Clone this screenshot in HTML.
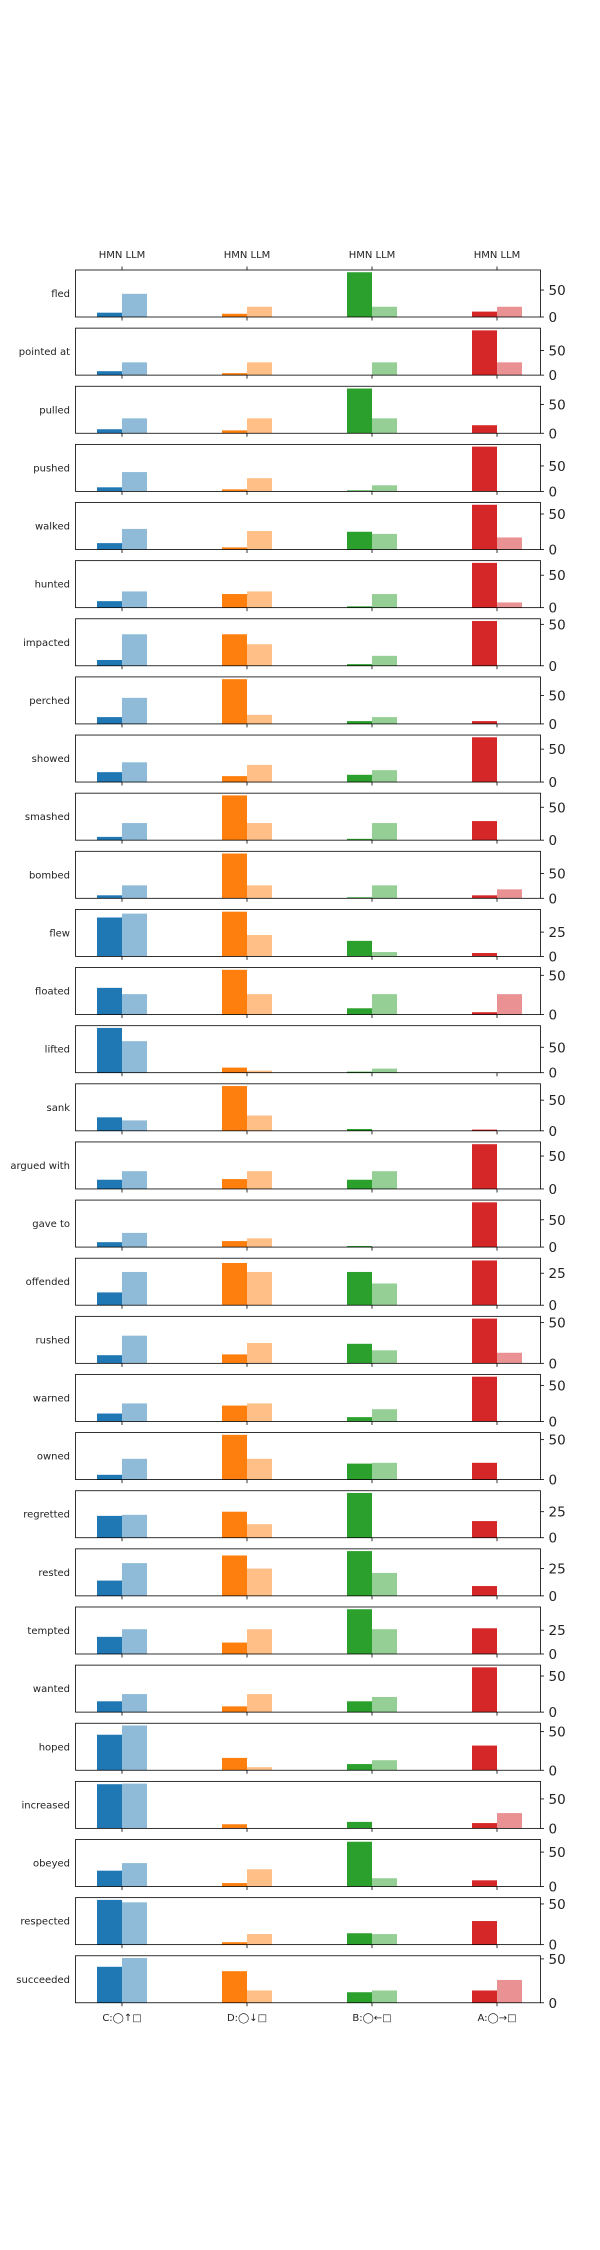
<!DOCTYPE html>
<html><head><meta charset="utf-8">
<style>
html,body{margin:0;padding:0;background:#fff;}
svg{display:block;}
text{font-family:"DejaVu Sans","Liberation Sans",sans-serif;fill:#222;}
</style></head>
<body>
<svg id="chart" width="600" height="2250" viewBox="0 0 600 2250" xmlns="http://www.w3.org/2000/svg"></svg>
<script>
const verbs = ["fled","pointed at","pulled","pushed","walked","hunted","impacted","perched","showed","smashed","bombed","flew","floated","lifted","sank","argued with","gave to","offended","rushed","warned","owned","regretted","rested","tempted","wanted","hoped","increased","obeyed","respected","succeeded"];
const groups = ["C:◯↑□","D:◯↓□","B:◯←□","A:◯→□"];
const hmnC = [8,8,7,8,9,10,7,12,15,5,6,40,34,88,22,14,9,10,10,11,6,21,14,18,15,46,75,23,55,41];
const llmC = [43,26,26,38,29,25,38,46,30,26,26,44,26,62,17,27,26,26,34,25,26,22,30,26,25,58,76,34,52,51];
const hmnD = [6,4,5,4,3,21,38,79,9,68,90,46,57,10,73,15,11,33,11,22,56,25,37,12,8,16,7,5,3,36];
const llmD = [19,26,26,26,26,25,26,16,26,26,26,22,26,4,25,27,16,26,25,25,26,13,25,26,25,4,0,25,13,14];
const hmnB = [83,0,78,2,25,2,2,5,11,2,2,16,8,2,3,14,2,26,24,6,20,43,41,47,15,8,11,65,14,12];
const llmB = [19,26,26,12,22,21,12,12,18,26,26,4.5,26,8,0,27,0,17,16,17,21,0,21,26,21,13,0,12,13,14];
const hmnA = [10,91,14,88,63,69,54,5,68,29,6,3.5,3,0,2,68,82,35,55,62,21,16,9,27,62,32,9,9,29,14];
const llmA = [19,26,0,0,17,8,0,0,0,0,18,0,26,0,0,0,0,0,13,0,0,0,0,0,0,0,26,0,0,26];

const svg = document.getElementById('chart');
const NS = 'http://www.w3.org/2000/svg';
const AX_L = 75.5, AX_R = 540.5, TOP0 = 270, PITCH = 58.13, AX_H = 47;
function xPos(g){ return 122 + 125*g; }
const BW = 25;
const darks = ['#1f77b4','#ff7f0e','#2ca02c','#d62728'];
const lights = ['#8fbbd9','#ffbf86','#95cf95','#ea9293'];
const hmnAll = [hmnC,hmnD,hmnB,hmnA];
const llmAll = [llmC,llmD,llmB,llmA];

function mk(tag, attrs, parent){
  const e = document.createElementNS(NS, tag);
  for (const k in attrs) e.setAttribute(k, attrs[k]);
  (parent||svg).appendChild(e);
  return e;
}

// top labels
groups.forEach((g,gi)=>{
  const t = mk('text',{x:xPos(gi),y:258,'font-size':'10','text-anchor':'middle'});
  
  
  t.textContent = 'HMN LLM';
  const tk = mk('line',{x1:xPos(gi),x2:xPos(gi),y1:TOP0-3.5,y2:TOP0,stroke:'#000','stroke-width':0.8});
  
  
});

verbs.forEach((v,i)=>{
  const top = TOP0 + i*PITCH, bot = top + AX_H;
  const g = mk('g',{});
  
  
  let mx = 0;
  for (let k=0;k<4;k++){ mx = Math.max(mx, hmnAll[k][i], llmAll[k][i]); }
  const ymax = mx*1.05;
  const y = val => bot - val/ymax*AX_H;
  for (let k=0;k<4;k++){
    const h = hmnAll[k][i], l = llmAll[k][i];
    const r1 = mk('rect',{x:xPos(k)-BW,y:y(h),width:BW,height:bot-y(h),fill:darks[k]},g);
    
    
    const r2 = mk('rect',{x:xPos(k),y:y(l),width:BW,height:bot-y(l),fill:lights[k]},g);
    
    
    const tk = mk('line',{x1:xPos(k),x2:xPos(k),y1:bot,y2:bot+3.5,stroke:'#000','stroke-width':0.8},g);
    
    
  }
  const frame = mk('rect',{x:AX_L,y:top,width:AX_R-AX_L,height:AX_H,fill:'none',stroke:'#000','stroke-width':0.8},g);
  
  
  const lab = mk('text',{x:70,y:top+AX_H/2+3.5,'font-size':'10','text-anchor':'end'},g);
  
  
  lab.textContent = v;
  const step = ymax > 51 ? 50 : 25;
  for (let t=0; t<=ymax; t+=step){
    const ty = y(t);
    const tl = mk('line',{x1:AX_R,x2:AX_R+3.5,y1:ty,y2:ty,stroke:'#000','stroke-width':0.8},g);
    
    
    const tt = mk('text',{x:AX_R+8,y:ty+5,'font-size':'13.5'},g);
    
    
    tt.textContent = String(t);
  }
});

groups.forEach((gname,gi)=>{
  const t = mk('text',{x:xPos(gi),y:2021,'font-size':'10','text-anchor':'middle'});
  
  
  t.textContent = gname;
});
</script>
</body></html>
